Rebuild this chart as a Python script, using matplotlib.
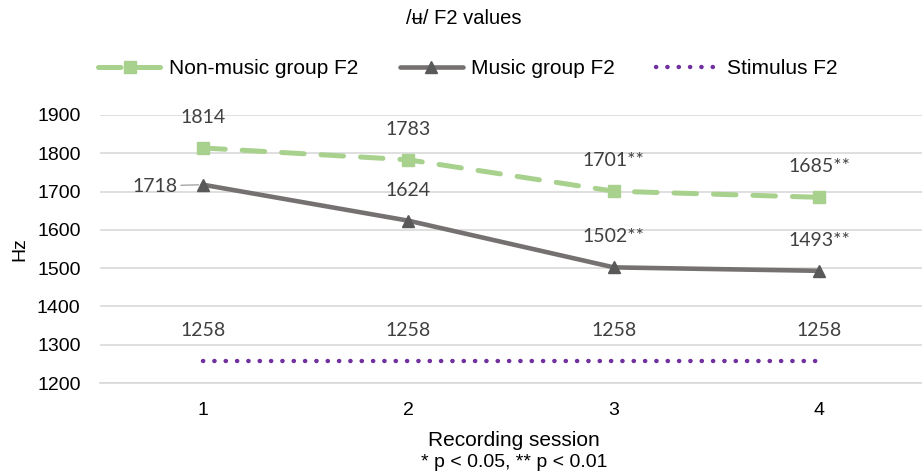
import numpy as np
import matplotlib
matplotlib.use("Agg")
import matplotlib.pyplot as plt

sessions = [1, 2, 3, 4]
session_labels = ["1", "2", "3", "4"]
nonmusic_f2 = [1814, 1783, 1701, 1685]
music_f2 = [1718, 1624, 1502, 1493]
stimulus_f2 = [1258, 1258, 1258, 1258]
nonmusic_text = ["1814", "1783", "1701**", "1685**"]
music_text = ["1718", "1624", "1502**", "1493**"]
stimulus_text = ["1258", "1258", "1258", "1258"]

GREEN = "#A9D18E"
GRAY = "#767171"
DARK = "#595959"
PURPLE = "#7030A0"
LABEL = "#404040"

plt.rcParams['font.family'] = ['Liberation Sans', 'DejaVu Sans']

fig = plt.figure(figsize=(9.22, 4.73), dpi=100)
ax = fig.add_axes([100 / 922, 1 - 383 / 473, 822 / 922, 268 / 473])

ax.plot(sessions, nonmusic_f2, color=GREEN, lw=3.6, dashes=(4.5, 3.4),
        dash_capstyle='round', marker='s', ms=9, mec=GREEN, mfc=GREEN,
        label="Non-music group F2", zorder=3)
ax.plot(sessions, music_f2, color=GRAY, lw=3.3, solid_capstyle='round',
        marker='^', ms=9, mec=DARK, mfc=DARK, label="Music group F2", zorder=3)
ax.plot(sessions, stimulus_f2, color=PURPLE, lw=3.2, linestyle=(0, (0.05, 2.5)),
        dash_capstyle='round', label="Stimulus F2", zorder=3)

lab_font = dict(family=['Lato', 'DejaVu Sans'], fontsize=14, color=LABEL,
                ha='center', va='center')
for x, y, t in zip(sessions, nonmusic_f2, nonmusic_text):
    ax.annotate(t, (x, y), xytext=(0, 22), textcoords='offset points', **lab_font)
for x, y, t in zip(sessions, music_f2, music_text):
    if x == 1:
        ax.annotate(t, (x, y), xytext=(-34, -1), textcoords='offset points',
                    arrowprops=dict(arrowstyle='-', color='#A6A6A6', lw=1,
                                    shrinkA=0, shrinkB=3), **lab_font)
    else:
        ax.annotate(t, (x, y), xytext=(0, 22), textcoords='offset points', **lab_font)
for x, y, t in zip(sessions, stimulus_f2, stimulus_text):
    ax.annotate(t, (x, y), xytext=(0, 21.5), textcoords='offset points', **lab_font)

ax.set_xlim(0.5, 4.5)
ax.set_ylim(1200, 1900)
ax.set_yticks(np.arange(1200, 1901, 100))
ax.set_xticks(sessions)
ax.set_xticklabels(session_labels)
ax.tick_params(axis='both', length=0, labelsize=14, colors='#000000')
ax.tick_params(axis='y', pad=14)
ax.tick_params(axis='x', pad=14)
ax.grid(axis='y', color='#D9D9D9', lw=1.2)
ax.set_axisbelow(True)
for s in ['top', 'right', 'left']:
    ax.spines[s].set_visible(False)
ax.spines['bottom'].set_color('#D9D9D9')
ax.spines['bottom'].set_linewidth(1.2)

ax.set_ylabel("Hz", fontsize=14, labelpad=6)
# axis title sits under the plot area, centred on it
fig.text(514 / 922, 1 - 440 / 473, "Recording session", ha='center', va='center', fontsize=15)
fig.text(514 / 922, 1 - 462 / 473, "* p < 0.05, ** p < 0.01", ha='center', va='center', fontsize=14)
fig.text(464 / 922, 1 - 18 / 473, "/\u0289/ F2 values", ha='center', va='center', fontsize=14.5)

fig.legend(loc='center', bbox_to_anchor=(468 / 922, 1 - 69 / 473), ncol=3, frameon=False,
           fontsize=15, handlelength=3.0, columnspacing=2.0, handletextpad=0.4)

fig.savefig("out.png", dpi=100)
